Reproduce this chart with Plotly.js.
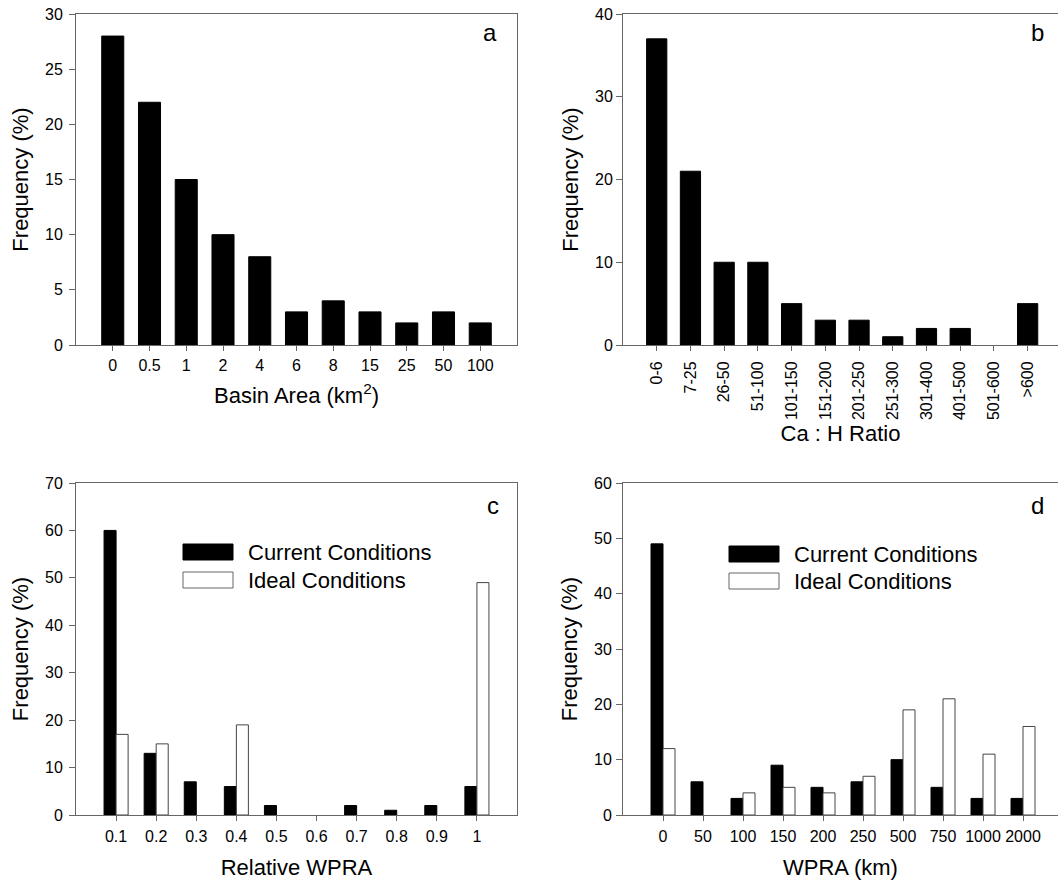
<!DOCTYPE html>
<html>
<head>
<meta charset="utf-8">
<script src="https://cdn.plot.ly/plotly-3.0.1.min.js"></script>
<style>html,body{margin:0;padding:0;background:#fff;}#chart{width:1058px;height:880px;}</style>
</head>
<body>
<div id="chart"></div>
<script>
// Panel a
const basinCats = ["0","0.5","1","2","4","6","8","15","25","50","100"];
const basinFreq = [28,22,15,10,8,3,4,3,2,3,2];
// Panel b
const ratioCats = ["0-6","7-25","26-50","51-100","101-150","151-200","201-250","251-300","301-400","401-500","501-600",">600"];
const ratioFreq = [37,21,10,10,5,3,3,1,2,2,0,5];
// Panel c
const relCats = ["0.1","0.2","0.3","0.4","0.5","0.6","0.7","0.8","0.9","1"];
const relCurrent = [60,13,7,6,2,0,2,1,2,6];
const relIdeal = [17,15,0,19,0,0,0,0,0,49];
// Panel d
const wpraCats = ["0","50","100","150","200","250","500","750","1000","2000"];
const wpraCurrent = [49,6,3,9,5,6,10,5,3,3];
const wpraIdeal = [12,0,4,5,4,7,19,21,11,16];

const W = 1058, H = 880;
const px = v => v / W;
const py = v => 1 - v / H;
const FONT = "Liberation Sans, Arial, sans-serif";
const lineCol = "#666";

// outline only drawn where a bar has height, so empty bins leave no mark
const blackBar = vals => ({color: "#000", line: {color: "#000", width: vals.map(v => v > 0 ? 1 : 0)}});
const whiteBar = vals => ({color: "#fff", line: {color: "#444", width: vals.map(v => v > 0 ? 1 : 0)}});

const traces = [
  {type: "bar", x: basinCats, y: basinFreq, xaxis: "x", yaxis: "y", marker: blackBar(basinFreq), name: "a"},
  {type: "bar", x: ratioCats, y: ratioFreq, xaxis: "x2", yaxis: "y2", marker: blackBar(ratioFreq), name: "b"},
  {type: "bar", x: relCats, y: relCurrent, xaxis: "x3", yaxis: "y3", marker: blackBar(relCurrent), name: "Current Conditions", offsetgroup: "cur"},
  {type: "bar", x: relCats, y: relIdeal, xaxis: "x3", yaxis: "y3", marker: whiteBar(relIdeal), name: "Ideal Conditions", offsetgroup: "ide"},
  {type: "bar", x: wpraCats, y: wpraCurrent, xaxis: "x4", yaxis: "y4", marker: blackBar(wpraCurrent), name: "Current Conditions", offsetgroup: "cur"},
  {type: "bar", x: wpraCats, y: wpraIdeal, xaxis: "x4", yaxis: "y4", marker: whiteBar(wpraIdeal), name: "Ideal Conditions", offsetgroup: "ide"}
];

function xax(domain, range, anchor, title, standoff, labelStandoff, extra) {
  return Object.assign({
    type: "category", domain: domain, range: range, anchor: anchor,
    showline: true, linecolor: lineCol, linewidth: 1, mirror: true,
    ticks: "outside", ticklen: 5, tickcolor: lineCol, tickwidth: 1,
    showgrid: false, zeroline: false, automargin: false,
    tickfont: {family: FONT, size: 16, color: "#000"},
    ticklabelstandoff: labelStandoff,
    title: {text: title, font: {family: FONT, size: 22, color: "#000"}, standoff: standoff}
  }, extra || {});
}
function yax(domain, range, dtick, anchor, mirror, standoff) {
  return {
    domain: domain, range: range, dtick: dtick, anchor: anchor,
    showline: true, linecolor: lineCol, linewidth: 1, mirror: mirror,
    ticks: "outside", ticklen: 6, tickcolor: lineCol, tickwidth: 1,
    showgrid: false, zeroline: false, automargin: false,
    tickfont: {family: FONT, size: 16, color: "#000"},
    ticklabelstandoff: standoff,
    title: {text: "Frequency (%)", font: {family: FONT, size: 22, color: "#000"}, standoff: 10}
  };
}

const topDom = [py(345), py(14)];
const botDom = [py(815), py(483)];
const leftDom = [px(76), px(517)];
const rightDom = [px(623), 1];

const layout = {
  width: W, height: H,
  margin: {l: 0, r: 0, t: 0, b: 0},
  paper_bgcolor: "#fff", plot_bgcolor: "#fff",
  showlegend: false,
  bargap: 0.4, bargroupgap: 0, barmode: "group",
  font: {family: FONT, color: "#000"},
  xaxis: xax(leftDom, [-1, 11], "y", "Basin Area (km<sup>2</sup>)", 14, 1),
  yaxis: yax(topDom, [0, 30], 5, "x", true, 3),
  xaxis2: xax(rightDom, [-1, 11.9], "y2", "Ca : H Ratio", 6, 4, {tickangle: -90}),
  yaxis2: yax(topDom, [0, 40], 10, "x2", false, 0),
  xaxis3: xax(leftDom, [-1, 10], "y3", "Relative WPRA", 24, 2),
  yaxis3: yax(botDom, [0, 70], 10, "x3", true, 3),
  xaxis4: xax(rightDom, [-1, 9.875], "y4", "WPRA (km)", 24, 2),
  yaxis4: yax(botDom, [0, 60], 10, "x4", false, 1),
  shapes: [
    {type: "rect", xref: "paper", yref: "paper", x0: px(183), x1: px(233), y0: py(560), y1: py(544), fillcolor: "#000", line: {color: "#000", width: 1}},
    {type: "rect", xref: "paper", yref: "paper", x0: px(183), x1: px(233), y0: py(588), y1: py(572), fillcolor: "#fff", line: {color: "#666", width: 1}},
    {type: "rect", xref: "paper", yref: "paper", x0: px(729), x1: px(779), y0: py(562), y1: py(546), fillcolor: "#000", line: {color: "#000", width: 1}},
    {type: "rect", xref: "paper", yref: "paper", x0: px(729), x1: px(779), y0: py(589), y1: py(573), fillcolor: "#fff", line: {color: "#666", width: 1}}
  ],
  annotations: [
    {text: "Current Conditions", xref: "paper", yref: "paper", x: px(246), y: py(552), xanchor: "left", yanchor: "middle", showarrow: false, font: {family: FONT, size: 22, color: "#000"}},
    {text: "Ideal Conditions", xref: "paper", yref: "paper", x: px(246), y: py(580), xanchor: "left", yanchor: "middle", showarrow: false, font: {family: FONT, size: 22, color: "#000"}},
    {text: "Current Conditions", xref: "paper", yref: "paper", x: px(792), y: py(554), xanchor: "left", yanchor: "middle", showarrow: false, font: {family: FONT, size: 22, color: "#000"}},
    {text: "Ideal Conditions", xref: "paper", yref: "paper", x: px(792), y: py(581), xanchor: "left", yanchor: "middle", showarrow: false, font: {family: FONT, size: 22, color: "#000"}},
    {text: "a", xref: "paper", yref: "paper", x: px(490), y: py(32), xanchor: "center", yanchor: "middle", showarrow: false, font: {family: FONT, size: 24, color: "#000"}},
    {text: "b", xref: "paper", yref: "paper", x: px(1037), y: py(33), xanchor: "center", yanchor: "middle", showarrow: false, font: {family: FONT, size: 24, color: "#000"}},
    {text: "c", xref: "paper", yref: "paper", x: px(493), y: py(505), xanchor: "center", yanchor: "middle", showarrow: false, font: {family: FONT, size: 24, color: "#000"}},
    {text: "d", xref: "paper", yref: "paper", x: px(1037), y: py(505), xanchor: "center", yanchor: "middle", showarrow: false, font: {family: FONT, size: 24, color: "#000"}}
  ]
};

Plotly.newPlot("chart", traces, layout, {displayModeBar: false, staticPlot: true});
</script>
</body>
</html>
